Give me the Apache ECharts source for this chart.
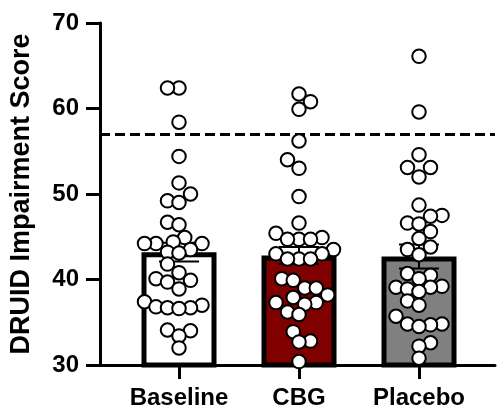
<!DOCTYPE html>
<html>
<head>
<meta charset="utf-8">
<script src="https://cdn.jsdelivr.net/npm/echarts@6/dist/echarts.min.js"></script>
<style>html,body{margin:0;padding:0;background:#fff;}#main{width:497px;height:413px;}</style>
</head>
<body>
<div id="main"></div>
<script>
// ---- data ----
const categories = ['Baseline', 'CBG', 'Placebo'];
const baseline = [62.4, 62.4, 58.4, 54.4, 51.3, 50.0, 49.2, 49.0, 46.7, 46.4, 44.9, 44.4, 44.2, 44.2, 44.2, 43.5, 43.2, 43.1, 41.8, 40.8, 40.1, 39.9, 39.7, 38.9, 37.4, 37.0, 36.8, 36.7, 36.7, 36.6, 34.1, 34.0, 33.4, 32.0];
const cbg = [61.7, 60.8, 59.9, 56.2, 54.0, 53.0, 49.7, 46.6, 45.4, 44.9, 44.7, 44.7, 44.7, 43.5, 43.0, 43.0, 42.4, 42.4, 42.4, 40.1, 39.9, 39.0, 39.0, 38.2, 37.9, 37.3, 37.3, 37.1, 36.2, 35.9, 33.9, 32.8, 32.7, 30.4];
const placebo = [66.1, 59.6, 54.6, 53.1, 53.1, 52.0, 48.7, 47.5, 47.4, 46.6, 46.5, 45.6, 44.8, 43.8, 43.5, 42.9, 40.7, 40.5, 40.1, 39.2, 39.1, 39.1, 38.9, 38.6, 37.5, 37.0, 35.7, 34.8, 34.8, 34.7, 34.5, 32.6, 32.2, 30.8];
const means = [43.2, 42.8, 42.7];
const sems = [1.1, 1.0, 1.4];
const threshold = 57;
const yMin = 30, yMax = 70, yStep = 10;

// ---- styles ----
const groups = [baseline, cbg, placebo];
const fills = ['#ffffff', '#800000', '#808080'];
const FONT = 'Liberation Sans, Arial, sans-serif';

const chart = echarts.init(document.getElementById('main'), null, {renderer: 'canvas'});

function buildOption(points) {
  return {
    animation: false,
    backgroundColor: '#fff',
    grid: [
      {left: 98, right: 2, top: 23, bottom: 48},
      {left: 119, right: 18, top: 23, bottom: 48}
    ],
    xAxis: [
      {type: 'value', gridIndex: 0, min: 0, max: 1,
        axisLine: {show: true, onZero: false, lineStyle: {color: '#000', width: 3}},
        axisTick: {show: false}, axisLabel: {show: false}, splitLine: {show: false}},
      {type: 'category', gridIndex: 1, data: categories,
        axisLine: {show: false},
        axisTick: {show: true, alignWithLabel: true, interval: 0, length: 14, lineStyle: {color: '#000', width: 3}},
        axisLabel: {interval: 0, color: '#000', fontSize: 24, fontWeight: 'bold', fontFamily: FONT, margin: 21},
        splitLine: {show: false}}
    ],
    yAxis: [
      {type: 'value', gridIndex: 0, min: yMin, max: yMax, interval: yStep,
        axisLine: {show: true, lineStyle: {color: '#000', width: 3}},
        axisTick: {show: true, length: 14, lineStyle: {color: '#000', width: 3}},
        axisLabel: {color: '#000', fontSize: 24, fontWeight: 'bold', fontFamily: FONT, margin: 21},
        splitLine: {show: false},
        name: 'DRUID Impairment Score', nameLocation: 'middle', nameGap: 65,
        nameTextStyle: {color: '#000', fontSize: 27, fontWeight: 'bold', fontFamily: FONT}},
      {type: 'value', gridIndex: 1, min: yMin, max: yMax, interval: yStep, show: false}
    ],
    series: [
      {type: 'line', xAxisIndex: 0, yAxisIndex: 0, data: [], silent: true,
        markLine: {silent: true, symbol: 'none', label: {show: false}, z: 2,
          lineStyle: {color: '#000', width: 3, type: [10, 5]},
          data: [{yAxis: threshold}]}},
      {type: 'bar', xAxisIndex: 1, yAxisIndex: 1, barWidth: 75, z: 3,
        data: means.map((m, i) => ({value: m, itemStyle: {color: fills[i]}})),
        itemStyle: {borderColor: '#000', borderWidth: 5}},
      {type: 'custom', xAxisIndex: 1, yAxisIndex: 1, z: 4,
        data: means.map((m, i) => [i, m - sems[i], m + sems[i]]),
        encode: {x: 0, y: [1, 2]},
        renderItem: function (params, api) {
          const x = api.value(0);
          const lo = api.coord([x, api.value(1)]);
          const hi = api.coord([x, api.value(2)]);
          const hw = 20;
          const st = {stroke: '#000', lineWidth: 2};
          return {type: 'group', children: [
            {type: 'line', shape: {x1: lo[0], y1: lo[1], x2: hi[0], y2: hi[1]}, style: st},
            {type: 'line', shape: {x1: lo[0] - hw, y1: lo[1], x2: lo[0] + hw, y2: lo[1]}, style: st},
            {type: 'line', shape: {x1: hi[0] - hw, y1: hi[1], x2: hi[0] + hw, y2: hi[1]}, style: st}
          ]};
        }},
      {type: 'scatter', id: 'pts', xAxisIndex: 1, yAxisIndex: 1, z: 5,
        symbol: 'circle', symbolSize: 13.5,
        itemStyle: {color: '#fff', borderColor: '#000', borderWidth: 2, opacity: 1},
        data: points}
    ]
  };
}

chart.setOption(buildOption([]));

// beeswarm layout in pixel space, driven by the values through the chart's scale
function swarm(ys) {
  const step = 5.75, minD = 11.5;
  const order = ys.map((y, i) => i).sort((a, b) => ys[b] - ys[a]);
  const placed = [];
  const off = new Array(ys.length).fill(0);
  order.forEach((idx, n) => {
    const y = ys[idx];
    for (let k = 0; k < 60; k++) {
      const cands = k === 0 ? [0] : (n % 2 ? [-k * step, k * step] : [k * step, -k * step]);
      let found = null;
      for (const c of cands) {
        let ok = true;
        for (const p of placed) {
          const dx = c - p.x, dy = y - p.y;
          if (dx * dx + dy * dy < minD * minD) { ok = false; break; }
        }
        if (ok) { found = c; break; }
      }
      if (found !== null) { off[idx] = found; placed.push({x: found, y: y}); break; }
    }
  });
  return off;
}

const points = [];
groups.forEach((vals, gi) => {
  const ys = vals.map(v => chart.convertToPixel({xAxisIndex: 1, yAxisIndex: 1}, [gi, v])[1]);
  const offs = swarm(ys);
  vals.forEach((v, j) => points.push({value: [gi, v], symbolOffset: [offs[j], 0]}));
});

chart.setOption(buildOption(points));
</script>
</body>
</html>
